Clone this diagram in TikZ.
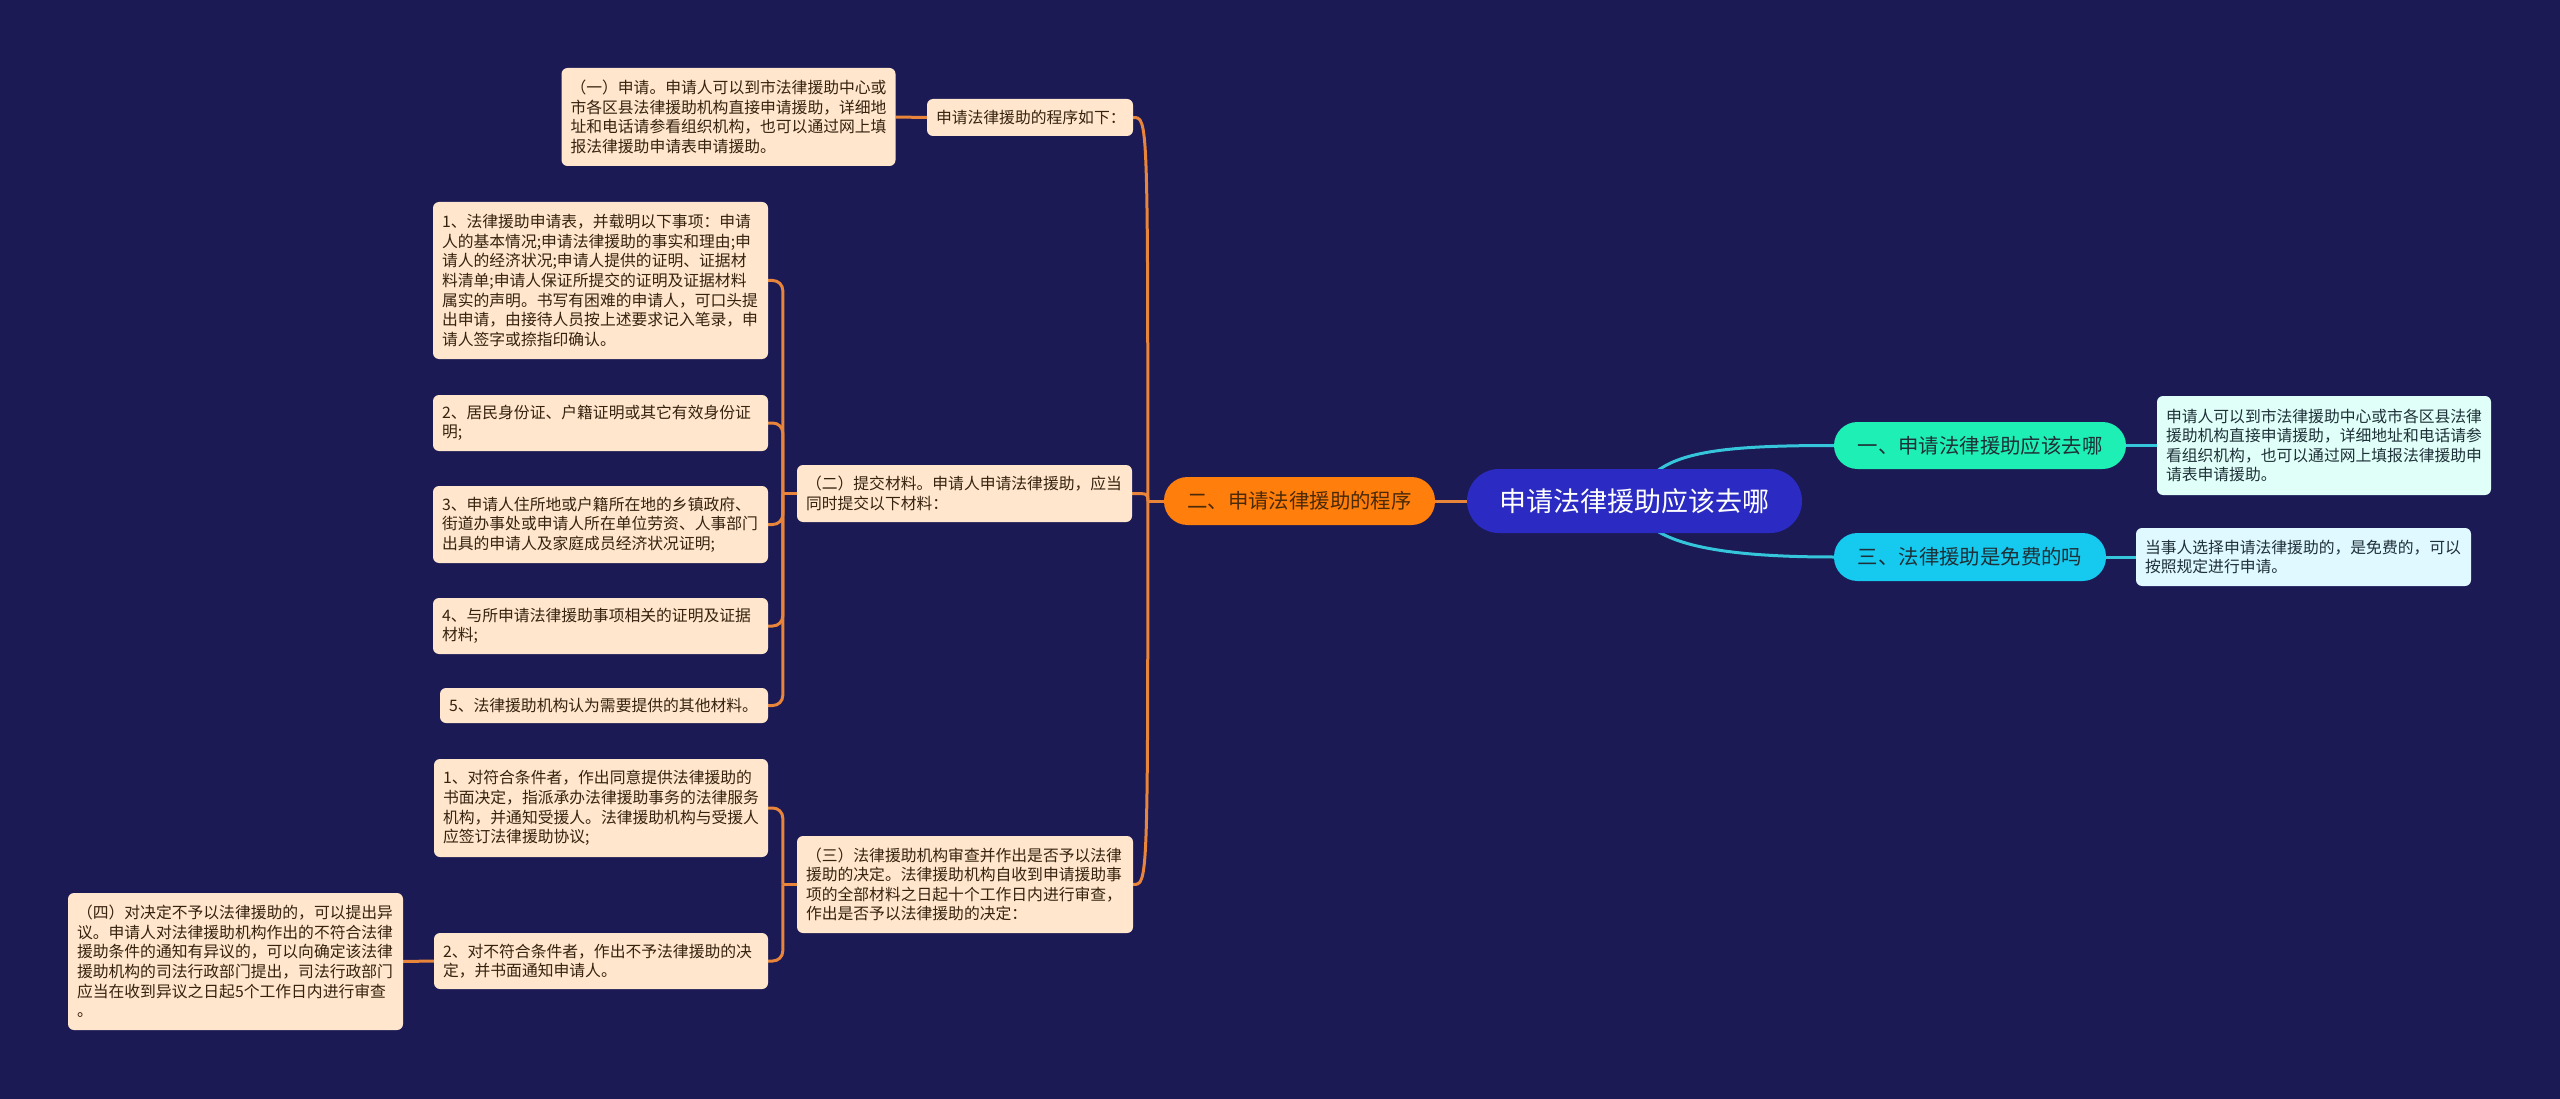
\documentclass[tikz,border=0pt]{standalone}
\usepackage{fontspec}
\setmainfont{Noto Sans CJK SC}
\usetikzlibrary{calc}
\definecolor{bgc}{HTML}{1B1A55}
\definecolor{peach}{HTML}{FFE6CC}
\definecolor{leaftext}{HTML}{35220F}
\definecolor{orangeline}{HTML}{E8853A}
\definecolor{cyanline}{HTML}{36C6DC}
\definecolor{rootfill}{HTML}{2B2BC3}
\definecolor{bonefill}{HTML}{1EEFB4}
\definecolor{bthreefill}{HTML}{16C9EE}
\definecolor{btwofill}{HTML}{FF7E0C}
\definecolor{btwotext}{HTML}{4A2A08}
\definecolor{bluetext}{HTML}{1E3038}
\definecolor{mintfill}{HTML}{E0FFF8}
\definecolor{icefill}{HTML}{E0F8FF}
\pgfdeclarelayer{bglayer}
\pgfdeclarelayer{edgelayer}
\pgfsetlayers{bglayer,edgelayer,main}
\begin{document}
\begin{tikzpicture}[x=1pt,y=-1pt,
  leaf/.style={rectangle, rounded corners=6pt, fill=peach, text=leaftext,
    font=\fontsize{15.8}{19.6}\selectfont, align=left, inner xsep=9pt, inner ysep=0pt},
  rleaf/.style={leaf, text=bluetext},
  branch/.style={rectangle, rounded corners=23.5pt, font=\fontsize{20.4}{24}\selectfont,
    align=center, inner sep=0pt},
  ol/.style={draw=orangeline, line width=3pt},
  cl/.style={draw=cyanline, line width=3pt}]
\begin{pgfonlayer}{bglayer}
\fill[bgc] (0,0) rectangle (2560,1099);
\end{pgfonlayer}
\useasboundingbox (0,0) rectangle (2560,1099);

% root and branches
\node[branch, fill=rootfill, text=white, rounded corners=32pt, minimum width=335pt, minimum height=64pt,
  font=\fontsize{27}{30}\selectfont] (root) at (1634.5,501) {申请法律援助应该去哪};
\node[branch, fill=btwofill, text=btwotext, minimum width=271pt, minimum height=48pt] (b2) at (1299.5,501) {二、申请法律援助的程序};
\node[branch, fill=bonefill, text=bluetext, minimum width=292pt, minimum height=47pt] (b1) at (1980,445.5) {一、申请法律援助应该去哪};
\node[branch, fill=bthreefill, text=bluetext, minimum width=272pt, minimum height=48pt] (b3) at (1970,557) {三、法律援助是免费的吗};

% right leaves
\node[rleaf, fill=mintfill, text width=316pt, minimum height=99pt] (r1) at (2324,445.5)
  {申请人可以到市法律援助中心或市各区县法律\\援助机构直接申请援助，详细地址和电话请参\\看组织机构，也可以通过网上填报法律援助申\\请表申请援助。};
\node[rleaf, fill=icefill, text width=317pt, minimum height=58pt] (r3) at (2303.5,557)
  {当事人选择申请法律援助的，是免费的，可以\\按照规定进行申请。};

% level 2 (left)
\node[leaf, text width=188pt, minimum height=37pt] (np) at (1030,117.5) {申请法律援助的程序如下：};
\node[leaf, text width=316pt, minimum height=98pt] (n1) at (728.5,117)
  {（一）申请。申请人可以到市法律援助中心或\\市各区县法律援助机构直接申请援助，详细地\\址和电话请参看组织机构，也可以通过网上填\\报法律援助申请表申请援助。};
\node[leaf, text width=317pt, minimum height=57pt] (n2) at (964.5,493.5)
  {（二）提交材料。申请人申请法律援助，应当\\同时提交以下材料：};
\node[leaf, text width=318pt, minimum height=97pt] (n3) at (965,884.5)
  {（三）法律援助机构审查并作出是否予以法律\\援助的决定。法律援助机构自收到申请援助事\\项的全部材料之日起十个工作日内进行审查，\\作出是否予以法律援助的决定：};

% level 3 under (二)
\node[leaf, text width=317pt, minimum height=157pt] (c1) at (600.5,280.5)
  {1、法律援助申请表，并载明以下事项：申请\\人的基本情况;申请法律援助的事实和理由;申\\请人的经济状况;申请人提供的证明、证据材\\料清单;申请人保证所提交的证明及证据材料\\属实的声明。书写有困难的申请人，可口头提\\出申请，由接待人员按上述要求记入笔录，申\\请人签字或捺指印确认。};
\node[leaf, text width=317pt, minimum height=56pt] (c2) at (600.5,423)
  {2、居民身份证、户籍证明或其它有效身份证\\明;};
\node[leaf, text width=317pt, minimum height=77pt] (c3) at (600.5,524.5)
  {3、申请人住所地或户籍所在地的乡镇政府、\\街道办事处或申请人所在单位劳资、人事部门\\出具的申请人及家庭成员经济状况证明;};
\node[leaf, text width=317pt, minimum height=56pt] (c4) at (600.5,626)
  {4、与所申请法律援助事项相关的证明及证据\\材料;};
\node[leaf, text width=310pt, minimum height=35pt] (c5) at (604,705.5)
  {5、法律援助机构认为需要提供的其他材料。};

% level 3 under (三)
\node[leaf, text width=316pt, minimum height=98pt] (d1) at (601,808)
  {1、对符合条件者，作出同意提供法律援助的\\书面决定，指派承办法律援助事务的法律服务\\机构，并通知受援人。法律援助机构与受援人\\应签订法律援助协议;};
\node[leaf, text width=316pt, minimum height=56pt] (d2) at (601,961)
  {2、对不符合条件者，作出不予法律援助的决\\定，并书面通知申请人。};
\node[leaf, text width=317pt, minimum height=137pt] (n4) at (235.5,961.5)
  {（四）对决定不予以法律援助的，可以提出异\\议。申请人对法律援助机构作出的不符合法律\\援助条件的通知有异议的，可以向确定该法律\\援助机构的司法行政部门提出，司法行政部门\\应当在收到异议之日起5个工作日内进行审查\\。};

% connectors
\begin{pgfonlayer}{edgelayer}
\draw[ol] (root.west) -- (b2.east);
\coordinate (j1) at ($(b2.west)+(-16,0)$);
\draw[ol] (b2.west) -- (j1);
\draw[ol] (j1) .. controls (j1 |- np.east) .. (np.east);
\draw[ol] (j1) .. controls (j1 |- n2.east) .. (n2.east);
\draw[ol] (j1) .. controls (j1 |- n3.east) .. (n3.east);
\draw[ol] (n1.east) -- (np.west);
\coordinate (j2) at ($(n2.west)+(-14,0)$);
\draw[ol] (n2.west) -- (j2);
\foreach \c in {c1,c2,c3,c4,c5}
  \draw[ol, rounded corners=10pt] (j2) |- (\c.east);
\coordinate (j3) at ($(n3.west)+(-14,0)$);
\draw[ol] (n3.west) -- (j3);
\foreach \c in {d1,d2}
  \draw[ol, rounded corners=10pt] (j3) |- (\c.east);
\draw[ol] (n4.east) -- (d2.west);
\draw[cl] ($(root.north)+(23,2)$) .. controls +(28,-21) and +(-94,0) .. (b1.west);
\draw[cl] ($(root.south)+(23,-2)$) .. controls +(28,17) and +(-94,0) .. (b3.west);
\draw[cl] (b1.east) -- (r1.west);
\draw[cl] (b3.east) -- (r3.west);
\end{pgfonlayer}
\end{tikzpicture}
\end{document}
